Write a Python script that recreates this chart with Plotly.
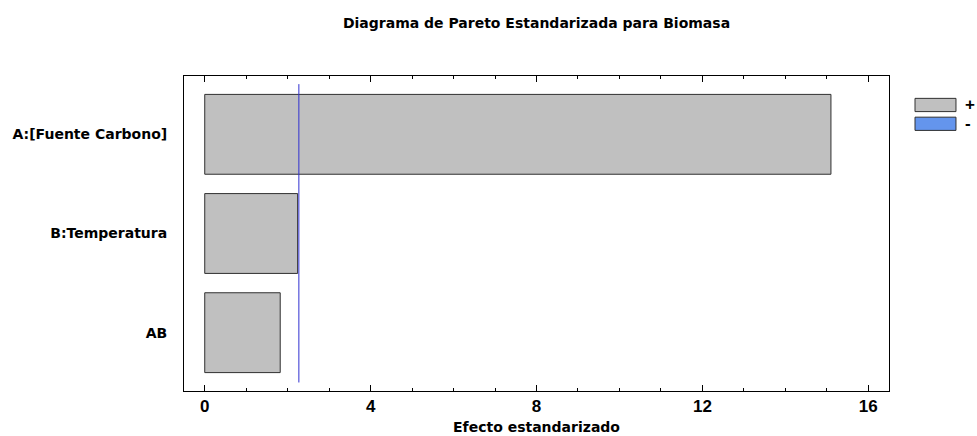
import plotly.graph_objects as go

categories = ["A:[Fuente Carbono]", "B:Temperatura", "AB"]
effects = [15.10, 2.24, 1.82]
signs = ["+", "+", "+"]
critical_value = 2.27
x_ticks = [0, 4, 8, 12, 16]
title_text = "Diagrama de Pareto Estandarizada para Biomasa"
x_title = "Efecto estandarizado"
legend_labels = ["+", "-"]
legend_colors = ["#C0C0C0", "#6495ED"]

WIDE = "DejaVu Sans, Verdana, sans-serif"
FONT = "Liberation Sans, Arial, sans-serif"
pos = list(range(len(categories)))

fig = go.Figure()
fig.add_trace(go.Bar(
    x=effects, y=pos, orientation="h", width=0.805,
    marker=dict(color=[legend_colors[0] if s == "+" else legend_colors[1] for s in signs],
                line=dict(color="#303030", width=1)),
    showlegend=False, hoverinfo="x+y",
))
fig.add_trace(go.Scatter(
    x=[critical_value, critical_value], y=[-0.506, 2.502], mode="lines",
    line=dict(color="#3030D0", width=1), showlegend=False,
))

shapes = []
annotations = []
for i, (lab, col) in enumerate(zip(legend_labels, legend_colors)):
    y0 = 0.887 - i * 0.0597
    shapes.append(dict(type="rect", xref="paper", yref="paper",
                       x0=1.0369, x1=1.095, y0=y0, y1=y0 + 0.042,
                       fillcolor=col, line=dict(color="#303030", width=1)))
    annotations.append(dict(xref="paper", yref="paper", x=1.1055, y=y0 + 0.021,
                            text="<b>%s</b>" % lab, showarrow=False,
                            xanchor="left", yanchor="middle",
                            font=dict(family=FONT, size=17, color="black")))

fig.update_layout(
    width=977, height=436,
    margin=dict(l=184, r=88, t=76, b=45),
    paper_bgcolor="white", plot_bgcolor="white",
    font=dict(family=FONT, color="black"),
    title=dict(text="<b>%s</b>" % title_text, x=0.5, xanchor="center",
               xref="paper", y=0.947, yref="container", yanchor="middle",
               font=dict(family=WIDE, size=14, color="black")),
    shapes=shapes, annotations=annotations,
    bargap=0.2,
)
fig.update_xaxes(
    range=[-0.5, 16.5], tickvals=x_ticks, ticktext=["<b>%d</b>" % t for t in x_ticks],
    ticks="inside", ticklen=6, tickwidth=1, tickcolor="black",
    minor=dict(dtick=1, tick0=0, ticks="inside", ticklen=3, tickcolor="black", tickwidth=1),
    showline=True, linecolor="black", linewidth=1, mirror="ticks",
    showgrid=False, zeroline=False, automargin=False,
    tickfont=dict(family=FONT, size=17, color="black"),
    title=dict(text="<b>%s</b>" % x_title, standoff=6,
               font=dict(family=WIDE, size=14, color="black")),
)
fig.update_yaxes(
    range=[2.588, -0.588], tickvals=pos, ticktext=["<b>%s</b>" % c for c in categories],
    ticks="", showline=True, linecolor="black", linewidth=1, mirror=True,
    showgrid=False, zeroline=False, ticklabelstandoff=13, automargin=False,
    tickfont=dict(family=WIDE, size=14, color="black"),
)

fig.write_html("out.html")
